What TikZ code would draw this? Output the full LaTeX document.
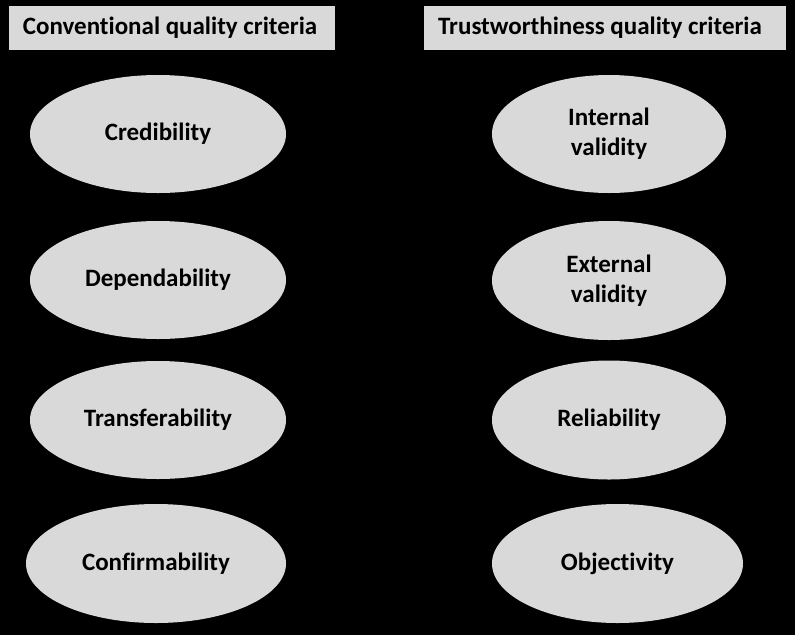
\documentclass[tikz,border=0pt]{standalone}
\usepackage{fontspec}
\setmainfont{Carlito}[RawFeature={-liga}]
\usetikzlibrary{shapes.geometric}
\definecolor{boxgray}{RGB}{217,217,217}
\tikzset{
  hdr/.style={fill=boxgray, draw=none, inner sep=0pt, font=\fontsize{25}{30}\selectfont\bfseries, align=center},
  crit/.style={ellipse, fill=boxgray, draw=none, inner sep=0pt, font=\fontsize{25}{30}\selectfont\bfseries, align=center},
}
\begin{document}
\begin{tikzpicture}[x=1pt,y=-1pt]
\fill[black] (0,0) rectangle (795,635);
\useasboundingbox (0,0) rectangle (795,635);
\node[hdr, minimum width=326pt, minimum height=44pt] (h1) at (172,28) {\hspace*{-4pt}Conventional quality criteria};
\node[hdr, minimum width=362pt, minimum height=44pt] (h2) at (605,28) {\hspace*{-10pt}Trustworthiness quality criteria};
\node[crit, minimum width=256pt, minimum height=118pt] (c1) at (158,134) {Credibility};
\node[crit, minimum width=256pt, minimum height=118pt] (c2) at (158,280) {Dependability};
\node[crit, minimum width=256pt, minimum height=118pt] (c3) at (158,420) {Transferability};
\node[crit, minimum width=260pt, minimum height=119pt] (c4) at (156,563.5) {Confirmability};
\node[crit, minimum width=234pt, minimum height=118pt] (t1) at (609,134) {Internal\\validity};
\node[crit, minimum width=234pt, minimum height=119pt] (t2) at (609,280.5) {External\\validity};
\node[crit, minimum width=234pt, minimum height=119pt] (t3) at (609,420) {Reliability};
\node[crit, minimum width=251pt, minimum height=119pt] (t4) at (617.5,563.5) {Objectivity};
\end{tikzpicture}
\end{document}
